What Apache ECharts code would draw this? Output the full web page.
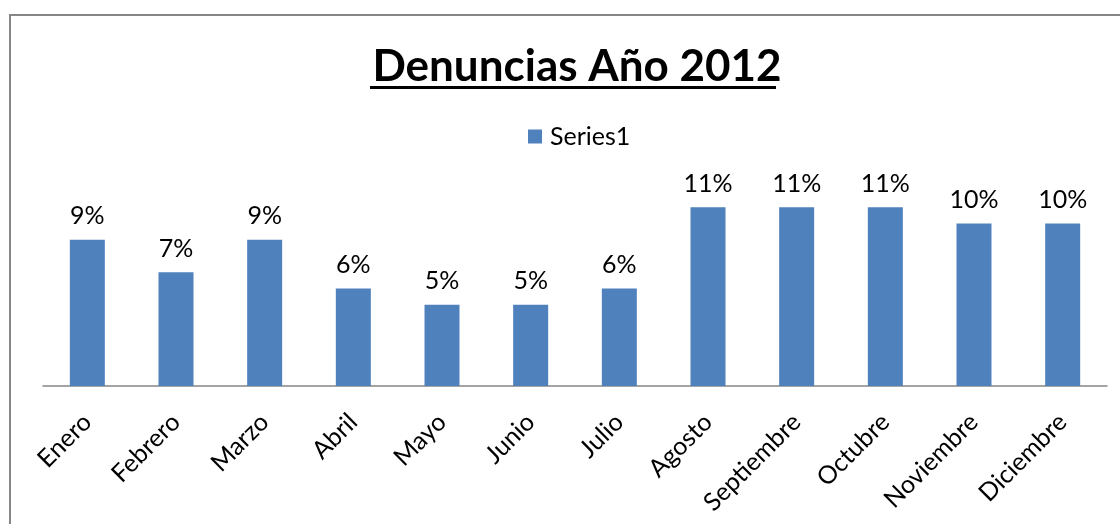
<!DOCTYPE html>
<html>
<head>
<meta charset="utf-8">
<script src="https://cdn.jsdelivr.net/npm/echarts@6/dist/echarts.min.js"></script>
<style>
  html, body { margin: 0; padding: 0; background: #fff; }
  #main { width: 1120px; height: 524px; }
</style>
</head>
<body>
<div id="main"></div>
<script>
// datos del grafico
var meses = ['Enero', 'Febrero', 'Marzo', 'Abril', 'Mayo', 'Junio', 'Julio',
  'Agosto', 'Septiembre', 'Octubre', 'Noviembre', 'Diciembre'];
var porcentajes = [9, 7, 9, 6, 5, 5, 6, 11, 11, 11, 10, 10];
var serieNombre = 'Series1';
var titulo = 'Denuncias Año 2012';

var fuente = 'Lato, "Open Sans", sans-serif';

var chart = echarts.init(document.getElementById('main'));

var option = {
  backgroundColor: '#fff',
  animation: false,
  title: {
    text: titulo,
    left: 572,
    top: 40,
    textAlign: 'center',
    textStyle: { fontFamily: fuente, fontWeight: 'bold', fontSize: 44, color: '#000' }
  },
  legend: {
    data: [serieNombre],
    left: 528,
    top: 124,
    padding: 0,
    icon: 'rect',
    itemWidth: 14,
    itemHeight: 14,
    textStyle: { fontFamily: fuente, fontSize: 25, color: '#000', padding: [0, 0, 0, 3] }
  },
  grid: { left: 43, right: 13, top: 191, bottom: 138, containLabel: false },
  xAxis: {
    type: 'category',
    data: meses,
    axisLine: { lineStyle: { color: '#868686', width: 1.5 } },
    axisTick: { show: false },
    axisLabel: {
      rotate: 45,
      margin: 32,
      interval: 0,
      fontFamily: fuente,
      fontSize: 25,
      color: '#000'
    }
  },
  yAxis: {
    type: 'value',
    min: 0,
    max: 12,
    show: false
  },
  series: [{
    name: serieNombre,
    type: 'bar',
    data: porcentajes,
    barWidth: 35,
    itemStyle: { color: '#4F81BD' },
    label: {
      show: true,
      position: 'top',
      distance: 11,
      formatter: '{c}%',
      fontFamily: fuente,
      fontSize: 25,
      color: '#000'
    }
  }],
  graphic: [
    {
      type: 'rect',
      shape: { x: 10, y: 15, width: 1200, height: 600 },
      style: { fill: 'none', stroke: '#868686', lineWidth: 2 },
      z: -1
    },
    {
      type: 'line',
      shape: { x1: 370, y1: 87.5, x2: 776, y2: 87.5 },
      style: { stroke: '#000', lineWidth: 3 }
    }
  ]
};

chart.setOption(option);
</script>
</body>
</html>
